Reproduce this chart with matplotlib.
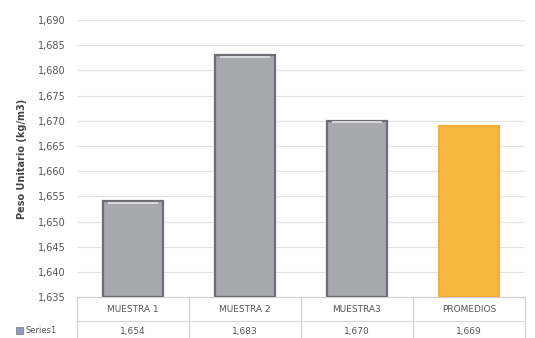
import matplotlib.pyplot as plt
from matplotlib.patches import Rectangle
from matplotlib.lines import Line2D
from matplotlib.ticker import FuncFormatter, MultipleLocator

categories = ["MUESTRA 1", "MUESTRA 2", "MUESTRA3", "PROMEDIOS"]
values = [1654, 1683, 1670, 1669]
value_labels = ["1,654", "1,683", "1,670", "1,669"]
series_name = "Series1"

gray = "#a8a8b0"
edge = "#6e6e74"
orange = "#f7b840"
colors = [gray, gray, gray, orange]
edges = [edge, edge, edge, "#f3b038"]

fig = plt.figure(figsize=(5.35, 3.38), dpi=100)
ax = fig.add_axes([0.144, 0.121, 0.837, 0.82])

ymin, ymax = 1635, 1690
for i, v in enumerate(values):
    ax.bar(i, v - ymin, bottom=ymin, width=0.53, color=colors[i],
           edgecolor=edges[i], linewidth=1.6, zorder=3)
    # light highlight along the bar top
    if i < 3:
        ax.plot([i - 0.22, i + 0.22], [v - 0.35, v - 0.35], color="#e4e4ea",
                lw=1.2, zorder=4, solid_capstyle="butt")

ax.set_xlim(-0.5, len(categories) - 0.5)
ax.set_ylim(ymin, ymax)
ax.yaxis.set_major_locator(MultipleLocator(5))
ax.yaxis.set_major_formatter(FuncFormatter(lambda v, p: f"{v:,.0f}"))
ax.tick_params(axis="y", length=0, labelsize=7, colors="#555555", pad=8)
ax.set_xticks([])
ax.grid(axis="y", color="#e2e2e2", lw=0.8, zorder=0)
for s in ["top", "right", "left"]:
    ax.spines[s].set_visible(False)
ax.spines["bottom"].set_color("#cfcfcf")
ax.set_ylabel("Peso Unitario (kg/m3)", fontsize=7, color="#444444",
              fontweight="bold", labelpad=8)

# data table under the plot
trans = ax.get_xaxis_transform()
for i, (c, lab) in enumerate(zip(categories, value_labels)):
    ax.text(i, -0.045, c, transform=trans, ha="center", va="center",
            fontsize=6.5, color="#555555", clip_on=False)
    ax.text(i, -0.125, lab, transform=trans, ha="center", va="center",
            fontsize=6.5, color="#555555", clip_on=False)
for xb in [-0.5, 0.5, 1.5, 2.5, 3.5]:
    ax.add_line(Line2D([xb, xb], [0, -0.16], transform=trans, color="#d0d0d0",
                       lw=0.8, clip_on=False))
ax.add_line(Line2D([-0.5, 3.5], [-0.085, -0.085], transform=trans,
                   color="#d8d8d8", lw=0.8, clip_on=False))
ax.add_line(Line2D([-1.05, 3.5], [-0.16, -0.16], transform=trans,
                   color="#e0e0e0", lw=0.8, clip_on=False))

# legend key for the table row
fig.patches.append(Rectangle((0.03, 0.012), 0.013, 0.02, transform=fig.transFigure,
                             facecolor="#8e9bb4", edgecolor="#6a7690", lw=0.5))
fig.text(0.048, 0.022, series_name, fontsize=6, color="#555555", va="center")

fig.savefig("out.png", dpi=100, facecolor="white")
